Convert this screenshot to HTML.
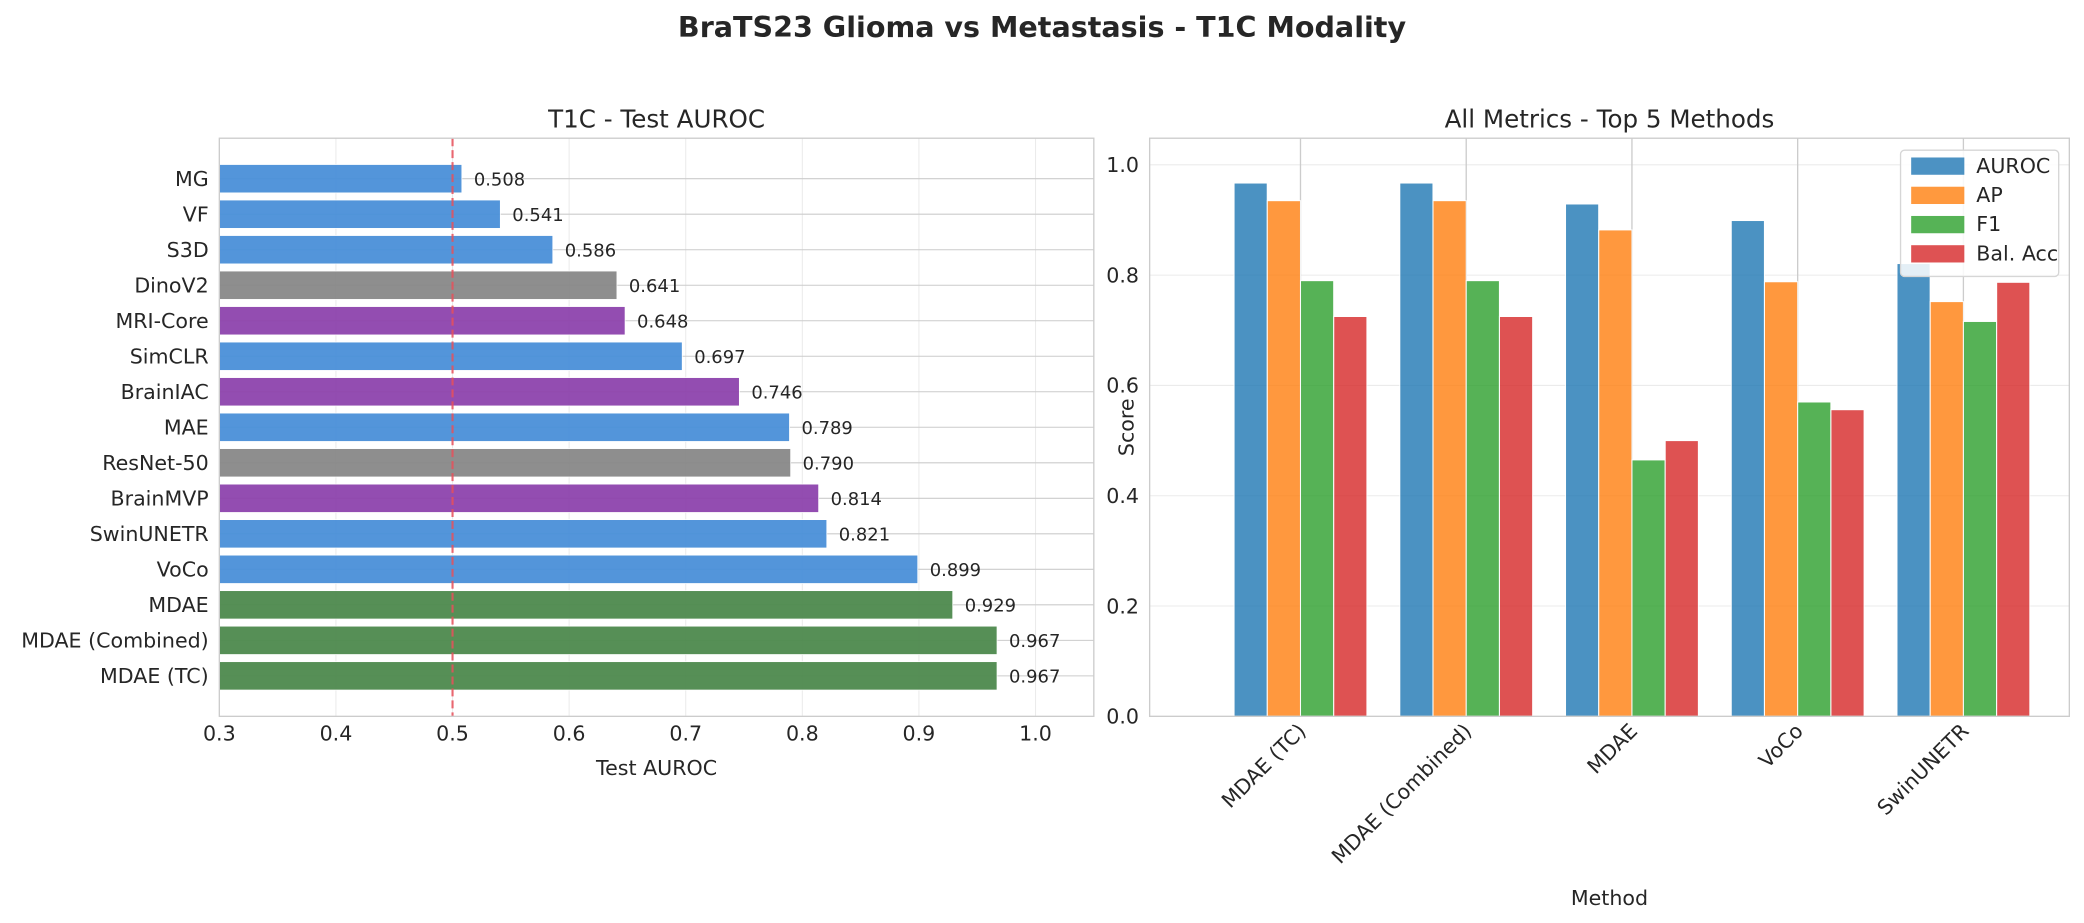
<!DOCTYPE html>
<html><head><meta charset="utf-8"><style>
html,body{margin:0;padding:0;background:#fff;}
svg{display:block;font-family:"DejaVu Sans","Liberation Sans",sans-serif;}
</style></head><body>
<svg id="fig" width="2084" height="923" viewBox="0 0 1568 694.5" xmlns="http://www.w3.org/2000/svg">
<rect width="1568" height="694.5" fill="#fff"/>
<text x="784" y="28" text-anchor="middle" font-size="21.5" font-weight="bold" fill="#262626">BraTS23 Glioma vs Metastasis - T1C Modality</text>
<g id="left"></g>
<g id="right"></g>
</svg>
<script>
const methods = ["MG","VF","S3D","DinoV2","MRI-Core","SimCLR","BrainIAC","MAE","ResNet-50","BrainMVP","SwinUNETR","VoCo","MDAE","MDAE (Combined)","MDAE (TC)"];
const aurocValues = [0.508,0.541,0.586,0.641,0.648,0.697,0.746,0.789,0.790,0.814,0.821,0.899,0.929,0.967,0.967];
const methodGroups = ["b","b","b","g","p","b","p","b","g","p","b","b","m","m","m"];
const xTicks = [0.3,0.4,0.5,0.6,0.7,0.8,0.9,1.0];

const topMethods = ["MDAE (TC)","MDAE (Combined)","MDAE","VoCo","SwinUNETR"];
const metricNames = ["AUROC","AP","F1","Bal. Acc"];
const aurocTop = [0.967,0.967,0.929,0.899,0.821];
const apTop = [0.935,0.935,0.882,0.788,0.752];
const f1Top = [0.790,0.790,0.465,0.570,0.716];
const balAccTop = [0.725,0.725,0.500,0.556,0.787];
const yTicks = [0.0,0.2,0.4,0.6,0.8,1.0];

const NS="http://www.w3.org/2000/svg";
function mk(parent,tag,attrs,text){const e=document.createElementNS(NS,tag);for(const k in attrs)e.setAttribute(k,attrs[k]);if(text!==undefined)e.textContent=text;parent.appendChild(e);return e;}
const colMap={b:"#4a90d9",g:"#888888",p:"#8e44ad",m:"#4e8a4e"};
const FS=15.5;

// LEFT
const L=document.getElementById('left');
const lx0=165,lx1=823,ly0=104,ly1=539;
const xmin=0.3,xmax=1.05;
const sx=v=>lx0+(v-xmin)/(xmax-xmin)*(lx1-lx0);
const ymin=-1.14,ymax=15.14;
const sy=i=>ly0+(i-ymin)/(ymax-ymin)*(ly1-ly0);
const bandH=(ly1-ly0)/(ymax-ymin);
xTicks.forEach(t=>{
  const g=mk(L,'line',{x1:sx(t),x2:sx(t),y1:ly0,y2:ly1,stroke:"#ebebeb","stroke-width":0.8});
  
  const tx=mk(L,'text',{x:sx(t),y:ly1+18,"text-anchor":"middle","font-size":FS,fill:"#262626"},t.toFixed(1));
  
});
methods.forEach((m,i)=>{
  const gl=mk(L,'line',{x1:lx0,x2:lx1,y1:sy(i),y2:sy(i),stroke:"#cccccc","stroke-width":0.8});
  
});
methods.forEach((m,i)=>{
  const v=aurocValues[i];
  const r=mk(L,'rect',{x:lx0,y:sy(i)-bandH*0.4,width:sx(v)-lx0,height:bandH*0.8,fill:colMap[methodGroups[i]],opacity:0.95,stroke:"#fff","stroke-width":0.6});
  
  
  const vt=mk(L,'text',{x:sx(v)+9,y:sy(i)+5,"font-size":13.5,fill:"#262626"},v.toFixed(3));
  
  const yl=mk(L,'text',{x:lx0-8,y:sy(i)+5.5,"text-anchor":"end","font-size":FS,fill:"#262626"},m);
  
});
const ref=mk(L,'line',{x1:sx(0.5),x2:sx(0.5),y1:ly0,y2:ly1,stroke:"#e8505b","stroke-width":1.6,"stroke-dasharray":"6,3",opacity:0.85});

const lf=mk(L,'rect',{x:lx0,y:ly0,width:lx1-lx0,height:ly1-ly0,fill:"none",stroke:"#cccccc","stroke-width":1});

const lt=mk(L,'text',{x:(lx0+lx1)/2,y:96,"text-anchor":"middle","font-size":18.5,fill:"#262626"},"T1C - Test AUROC");

const lxl=mk(L,'text',{x:(lx0+lx1)/2,y:583,"text-anchor":"middle","font-size":FS,fill:"#262626"},"Test AUROC");


// RIGHT
const R=document.getElementById('right');
const rx0=865,rx1=1557,ry0=104,ry1=539;
const gx0=978.5,gstep=124.7,bw=25;
const gx=i=>gx0+i*gstep;
const ry=v=>ry1-v*415;
yTicks.forEach(t=>{
  const g=mk(R,'line',{x1:rx0,x2:rx1,y1:ry(t),y2:ry(t),stroke:"#ebebeb","stroke-width":0.8});
  
  const tx=mk(R,'text',{x:rx0-8,y:ry(t)+5.5,"text-anchor":"end","font-size":FS,fill:"#262626"},t.toFixed(1));
  
});
topMethods.forEach((m,i)=>{
  const g=mk(R,'line',{x1:gx(i),x2:gx(i),y1:ry0,y2:ry1,stroke:"#cccccc","stroke-width":1});
  
});
const series=[aurocTop,apTop,f1Top,balAccTop];
const sCols=["#1f77b4","#ff7f0e","#2ca02c","#d62728"];
series.forEach((arr,s)=>{
  arr.forEach((v,i)=>{
    const x=gx(i)+(s-2)*bw;
    const r=mk(R,'rect',{x:x,y:ry(v),width:bw,height:ry(0)-ry(v),fill:sCols[s],opacity:0.8,stroke:"#fff","stroke-width":0.8});
    
    
  });
});
topMethods.forEach((m,i)=>{
  const ax=gx(i)+5, ay=ry1+12;
  const t=mk(R,'text',{x:ax,y:ay,"text-anchor":"end","font-size":FS,fill:"#262626",transform:`rotate(-45 ${ax} ${ay})`},m);
  
});
const rf=mk(R,'rect',{x:rx0,y:ry0,width:rx1-rx0,height:ry1-ry0,fill:"none",stroke:"#cccccc","stroke-width":1});

const rt=mk(R,'text',{x:(rx0+rx1)/2,y:96,"text-anchor":"middle","font-size":18.5,fill:"#262626"},"All Metrics - Top 5 Methods");

const rxl=mk(R,'text',{x:(rx0+rx1)/2,y:681,"text-anchor":"middle","font-size":FS,fill:"#262626"},"Method");

const ryl=mk(R,'text',{x:853,y:(ry0+ry1)/2,"text-anchor":"middle","font-size":FS,fill:"#262626",transform:`rotate(-90 853 ${(ry0+ry1)/2})`},"Score");

const lg=mk(R,'g',{});

mk(lg,'rect',{x:1430,y:113,width:119,height:95,rx:3,fill:"#fff","fill-opacity":0.85,stroke:"#d6d6d6","stroke-width":1});
metricNames.forEach((n,s)=>{
  const yy=124+s*22;
  const sw=mk(lg,'rect',{x:1438,y:yy-5.5,width:40,height:13,fill:sCols[s],opacity:0.8});
  
  const t=mk(lg,'text',{x:1487,y:yy+6,"font-size":FS,fill:"#262626"},n);
  
});
</script>
</body></html>
